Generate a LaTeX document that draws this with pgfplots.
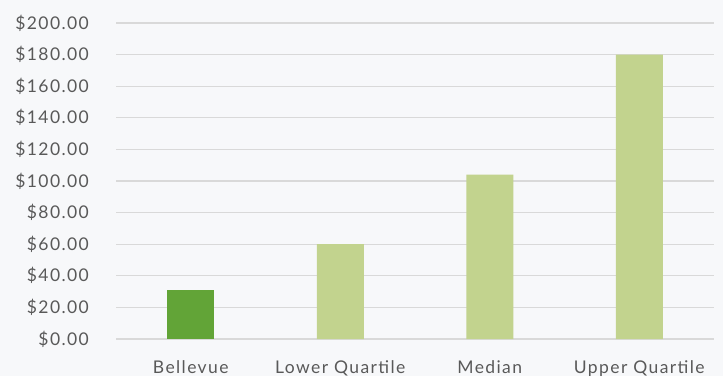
\documentclass[border=0pt]{standalone}
\usepackage{fontspec}
\setmainfont{Lato}[LetterSpace=8]
\usepackage{pgfplots}
\pgfplotsset{compat=1.18}
\definecolor{bg}{HTML}{F7F8FA}
\definecolor{gridc}{HTML}{D9D9D9}
\definecolor{txt}{HTML}{595959}
\definecolor{dark}{HTML}{62A437}
\definecolor{light}{HTML}{C2D38E}
\begin{document}
\begin{tikzpicture}[x=1bp,y=1bp]
\fill[bg] (0,0) rectangle (723,376);
\useasboundingbox (0,0) rectangle (723,376);
\begin{axis}[
    at={(116bp,37bp)}, anchor=south west,
    scale only axis, width=598bp, height=316bp,
    xmin=-0.5, xmax=3.5, ymin=0, ymax=200,
    ytick={0,20,...,200},
    xtick={0,1,2,3},
    xticklabels={Bellevue, Lower Quartile, Median, Upper Quartile},
    axis line style={draw=none},
    ymajorgrids, grid style={gridc, line width=1.2bp},
    major tick length=0pt,
    font=\fontsize{17.5bp}{20bp}\selectfont,
    ticklabel style={text=txt},
    /pgf/number format/assume math mode=true,
    yticklabel={\$\pgfmathprintnumber[fixed,fixed zerofill,precision=2]{\tick}},
    y tick label style={anchor=east, inner sep=0pt, xshift=-27bp},
    x tick label style={anchor=base, inner sep=0pt, yshift=-34bp},
    ybar, bar width=47bp,
    clip=false,
]
\addplot[fill=dark, draw=none, bar shift=0pt] coordinates {(0,31)};
\addplot[fill=light, draw=none, bar shift=0pt] coordinates {(1,60) (2,104) (3,180)};
\end{axis}
\end{tikzpicture}
\end{document}
